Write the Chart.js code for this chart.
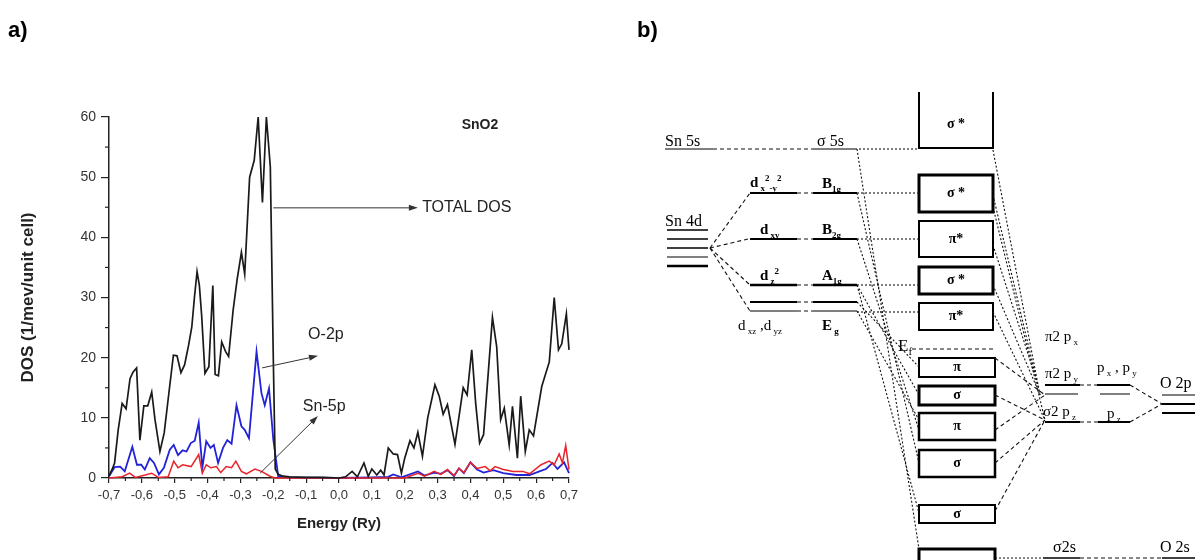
<!DOCTYPE html>
<html>
<head>
<meta charset="utf-8">
<script src="https://cdn.jsdelivr.net/npm/chart.js@4.4.0/dist/chart.umd.min.js"></script>
<style>
  html, body { margin: 0; padding: 0; background: #fff; }
  #wrap { position: relative; width: 1202px; height: 560px; overflow: hidden; }
  #dos { position: absolute; left: 0; top: 0; }
  #mo { position: absolute; left: 630px; top: 0; }
</style>
</head>
<body>
<div id="wrap">
  <canvas id="dos" width="630" height="560"></canvas>
  <canvas id="mo" width="572" height="560"></canvas>
</div>
<script>
// ---- panel a) density of states, energy in Ry ----
const totalE = [-0.700,-0.690,-0.683,-0.672,-0.660,-0.648,-0.636,-0.627,-0.616,-0.606,-0.594,-0.582,-0.570,-0.560,-0.545,-0.532,-0.518,-0.504,-0.493,-0.481,-0.470,-0.458,-0.448,-0.440,-0.432,-0.425,-0.418,-0.408,-0.396,-0.384,-0.377,-0.367,-0.357,-0.345,-0.336,-0.322,-0.310,-0.297,-0.287,-0.272,-0.258,-0.246,-0.233,-0.221,-0.209,-0.200,-0.194,-0.185,-0.170,-0.150,-0.100,-0.050,0.000,0.020,0.040,0.056,0.076,0.089,0.100,0.115,0.127,0.137,0.150,0.165,0.178,0.190,0.200,0.216,0.228,0.240,0.254,0.270,0.292,0.305,0.317,0.330,0.353,0.378,0.390,0.404,0.416,0.428,0.440,0.467,0.480,0.492,0.503,0.518,0.528,0.543,0.553,0.567,0.579,0.592,0.617,0.640,0.655,0.668,0.678,0.692,0.700];
const totalDOS = [0.3,1.5,2.5,8,12.4,11.5,16.5,17.6,18.3,6.3,12,12,14.3,9.7,4.4,7.5,14,20.4,20.3,17.5,18.8,22,25.1,30,34.3,32,27,17.4,18.5,32,17.2,17,22.6,21,20.2,28,33,37.5,33.9,50,52.8,60,45.8,60,51.7,20,1.5,0.6,0.3,0.2,0.1,0.1,0,0.2,1.1,0.2,2.5,0.3,1.5,0.5,1.3,0.5,5,4,3.9,0.8,3.3,6.2,5,7.6,3.6,10,15.5,13.6,10.6,12.2,5.6,15,13.8,21.3,12.4,5.8,7.2,26.7,21.8,9.7,11.6,5.5,11.9,3.3,13.6,4.4,8,7,15.2,19.3,30,21.3,22.3,27.3,21.3];

const o2pE = [-0.700,-0.683,-0.666,-0.652,-0.629,-0.615,-0.602,-0.591,-0.576,-0.563,-0.548,-0.533,-0.515,-0.503,-0.490,-0.476,-0.464,-0.451,-0.439,-0.427,-0.416,-0.404,-0.391,-0.381,-0.368,-0.353,-0.340,-0.327,-0.312,-0.297,-0.287,-0.274,-0.251,-0.236,-0.226,-0.213,-0.200,-0.185,-0.150,0.000,0.100,0.150,0.165,0.190,0.240,0.260,0.290,0.310,0.330,0.350,0.365,0.380,0.400,0.420,0.440,0.470,0.500,0.540,0.580,0.610,0.630,0.650,0.665,0.685,0.700];
const o2pDOS = [0.3,1.8,1.9,1.1,5.2,2.2,2.2,1.4,3.3,2.5,0.6,1.7,4.7,5.5,3.8,4.6,4.4,5.8,6.2,9.2,1.7,6.1,5.0,5.5,2.5,5.0,6.3,5.7,12.1,8.6,8.0,6.6,21,14.1,12.1,14.9,6.4,0.3,0.1,0,0.1,0.2,0.6,0.1,1.1,0.4,0.9,0.7,1.3,0.3,1.6,0.8,2.6,1.4,0.9,1.3,0.8,0.5,0.5,1.1,1.5,2.5,1.5,2.6,0.8];

const sn5pE = [-0.700,-0.660,-0.637,-0.620,-0.590,-0.570,-0.550,-0.520,-0.503,-0.490,-0.476,-0.450,-0.427,-0.416,-0.404,-0.390,-0.373,-0.360,-0.343,-0.327,-0.314,-0.297,-0.282,-0.256,-0.236,-0.210,-0.195,0.200,0.240,0.260,0.290,0.310,0.330,0.350,0.365,0.380,0.400,0.420,0.445,0.460,0.475,0.500,0.530,0.560,0.580,0.615,0.640,0.655,0.670,0.680,0.690,0.700];
const sn5pDOS = [0,0.2,0.8,0.1,0.5,0.8,0.1,0.2,2.8,1.7,2.2,1.9,3.9,0.8,2.2,1.7,1.9,0.9,1.9,1.7,2.8,1.1,0.7,1.5,1.1,0.3,0,0,0.8,0.3,1.1,0.6,1.4,0.4,1.6,0.9,2.6,1.6,1.9,1.2,1.9,1.4,1.1,1.1,0.7,2.2,2.8,2.2,4.0,2.5,5.4,1.4];

const yTicks = [0, 10, 20, 30, 40, 50, 60];
const xMin = -0.7, xMax = 0.7;

// labels with arrows, in data units (energy, DOS)
const arrows = [
  [-0.200, 44.9, 0.240, 44.9],
  [-0.234, 18.3, -0.064, 20.3],
  [-0.240, 0.8, -0.064, 10.3]
];
const notes = [
  ['TOTAL DOS', 0.253, 44.9, 'normal 16px Arial', 'left'],
  ['O-2p', -0.094, 23.8, 'normal 16px Arial', 'left'],
  ['Sn-5p', -0.110, 11.8, 'normal 16px Arial', 'left'],
  ['SnO2', 0.429, 58.6, 'bold 14px Arial', 'center']
];

function pts(xs, ys) {
  return xs.map((x, i) => ({ x: x, y: ys[i] }));
}

function arrow(ctx, x1, y1, x2, y2) {
  const a = Math.atan2(y2 - y1, x2 - x1);
  ctx.beginPath();
  ctx.moveTo(x1, y1);
  ctx.lineTo(x2 - 6 * Math.cos(a), y2 - 6 * Math.sin(a));
  ctx.stroke();
  ctx.beginPath();
  ctx.moveTo(x2, y2);
  ctx.lineTo(x2 - 9 * Math.cos(a) + 3 * Math.sin(a), y2 - 9 * Math.sin(a) - 3 * Math.cos(a));
  ctx.lineTo(x2 - 9 * Math.cos(a) - 3 * Math.sin(a), y2 - 9 * Math.sin(a) + 3 * Math.cos(a));
  ctx.closePath();
  ctx.fill();
}

const dosNotes = {
  id: 'dosNotes',
  afterDraw(chart) {
    const ctx = chart.ctx, xs = chart.scales.x, ys = chart.scales.y;
    ctx.save();
    // minor ticks
    ctx.strokeStyle = '#222';
    ctx.lineWidth = 1.2;
    for (let v = 5; v < 60; v += 10) {
      const p = ys.getPixelForValue(v);
      ctx.beginPath(); ctx.moveTo(xs.left - 4, p); ctx.lineTo(xs.left, p); ctx.stroke();
    }
    for (let v = -0.65; v < 0.7; v += 0.1) {
      const p = xs.getPixelForValue(v);
      ctx.beginPath(); ctx.moveTo(p, ys.bottom); ctx.lineTo(p, ys.bottom + 3); ctx.stroke();
    }
    // arrows
    ctx.strokeStyle = '#333';
    ctx.fillStyle = '#333';
    ctx.lineWidth = 1;
    arrows.forEach(a => arrow(ctx, xs.getPixelForValue(a[0]), ys.getPixelForValue(a[1]),
      xs.getPixelForValue(a[2]), ys.getPixelForValue(a[3])));
    // texts
    ctx.fillStyle = '#222';
    ctx.textBaseline = 'middle';
    notes.forEach(n => {
      ctx.font = n[3];
      ctx.textAlign = n[4];
      ctx.fillText(n[0], xs.getPixelForValue(n[1]), ys.getPixelForValue(n[2]));
    });
    ctx.font = 'bold 22px Arial';
    ctx.textAlign = 'left';
    ctx.fillStyle = '#000';
    ctx.fillText('a)', 8, 31);
    ctx.restore();
  }
};

new Chart(document.getElementById('dos'), {
  type: 'line',
  data: {
    datasets: [
      { label: 'TOTAL DOS', data: pts(totalE, totalDOS), borderColor: '#1a1a1a', borderWidth: 1.7 },
      { label: 'Sn-5p', data: pts(sn5pE, sn5pDOS), borderColor: '#e8242a', borderWidth: 1.5 },
      { label: 'O-2p', data: pts(o2pE, o2pDOS), borderColor: '#2222d8', borderWidth: 1.8 }
    ]
  },
  options: {
    responsive: false,
    animation: false,
    elements: { point: { radius: 0 }, line: { tension: 0 } },
    datasets: { line: { clip: 4 } },
    layout: { padding: { left: 18, top: 117, right: 61, bottom: 22 } },
    plugins: { legend: { display: false }, tooltip: { enabled: false } },
    scales: {
      x: {
        type: 'linear', min: xMin, max: xMax,
        ticks: {
          stepSize: 0.1, padding: 5, color: '#333', font: { family: 'Arial', size: 13 },
          callback: v => Math.abs(v) < 1e-9 ? '0,0' : v.toFixed(1).replace('.', ',')
        },
        grid: { drawOnChartArea: false, tickLength: 5, color: '#222', lineWidth: 1.2 },
        border: { color: '#222', width: 1.5 },
        title: { display: true, text: 'Energy (Ry)', color: '#222', font: { family: 'Arial', size: 15, weight: 'bold' }, padding: { top: 0, bottom: 5 } },
        afterFit(s) { s.height = 60; }
      },
      y: {
        type: 'linear', min: 0, max: 60,
        afterBuildTicks(s) { s.ticks = yTicks.map(v => ({ value: v })); },
        ticks: { padding: 5, color: '#333', font: { family: 'Arial', size: 14 } },
        grid: { drawOnChartArea: false, tickLength: 8, color: '#222', lineWidth: 1.2 },
        border: { color: '#222', width: 1.5 },
        title: { display: true, text: 'DOS (1/mev/unit cell)', color: '#222', font: { family: 'Arial', size: 17, weight: 'bold' }, padding: { top: 0, bottom: 0 } },
        afterFit(s) { s.width = 91; }
      }
    }
  },
  plugins: [dosNotes]
});

// ---- panel b) MO diagram, diagram units (x across, y down = lower energy) ----
// levels: [x1, x2, y, lineWidth]
const levels = [
  [665, 713, 149, 1], [813, 855, 149, 1],
  [667, 708, 230, 1.5], [667, 708, 239, 1.5], [667, 708, 248, 1.5], [667, 708, 257, 1], [667, 708, 266, 2.5],
  [750, 797, 193, 2.2], [750, 797, 239, 1.8], [750, 797, 285, 2.5], [750, 797, 302, 1.8], [750, 797, 311, 1.2],
  [813, 857, 193, 2.2], [813, 857, 239, 1.8], [813, 857, 285, 2.5], [813, 857, 302, 1.8], [813, 857, 311, 1.2],
  [1045, 1080, 385, 2], [1045, 1078, 394, 1], [1045, 1080, 422, 2],
  [1097, 1130, 385, 2], [1100, 1130, 394, 1], [1098, 1130, 422, 2],
  [1162, 1195, 395, 1.2], [1162, 1195, 404, 2], [1162, 1195, 413, 2],
  [1043, 1080, 558, 1.5], [1162, 1195, 558, 1.5]
];
// boxes: [x1, y1, x2, y2, lineWidth, label, openTop]
const boxes = [
  [919, 93, 993, 148, 2, 'σ *', true],
  [919, 175, 993, 212, 3, 'σ *', false],
  [919, 221, 993, 257, 2, 'π*', false],
  [919, 267, 993, 294, 3, 'σ *', false],
  [919, 303, 993, 330, 2, 'π*', false],
  [919, 358, 995, 377, 2, 'π', false],
  [919, 386, 995, 405, 3, 'σ', false],
  [919, 413, 995, 440, 2.5, 'π', false],
  [919, 450, 995, 477, 2.5, 'σ', false],
  [919, 505, 995, 523, 2, 'σ', false],
  [919, 549, 995, 580, 3, '', false]
];
// dashed links: [x1, y1, x2, y2]
const dashed = [
  [713, 149, 813, 149],
  [710, 248, 750, 193], [710, 248, 748, 239], [710, 248, 750, 285], [710, 248, 750, 311],
  [797, 193, 813, 193], [797, 239, 813, 239], [797, 285, 813, 285], [797, 302, 813, 302], [797, 311, 813, 311],
  [1080, 385, 1097, 385], [1080, 422, 1098, 422],
  [1130, 385, 1162, 404], [1130, 422, 1162, 404],
  [1080, 558, 1162, 558],
  [995, 358, 1045, 395], [995, 395, 1045, 420], [995, 430, 1045, 395], [995, 463, 1045, 420], [995, 511, 1045, 420],
  [912, 349, 995, 349]
];
// dotted links
const dotted = [
  [855, 149, 919, 149], [857, 193, 919, 193], [857, 239, 919, 239], [857, 285, 919, 285], [857, 312, 919, 312],
  [857, 149, 919, 549], [857, 193, 919, 463], [857, 239, 919, 430], [857, 285, 919, 395],
  [857, 285, 919, 513], [857, 302, 919, 367], [857, 311, 919, 420],
  [993, 150, 1040, 395], [993, 195, 1040, 395], [993, 207, 1045, 420], [993, 245, 1038, 385],
  [993, 285, 1040, 395], [993, 312, 1045, 420],
  [995, 558, 1043, 558]
];
// rich labels: [x, y, size, bold, parts] ; part kind n=normal, b=subscript, p=superscript
const moLabels = [
  [665, 146, 16, false, [['Sn 5s', 'n']]],
  [817, 146, 16, false, [['σ 5s', 'n']]],
  [665, 226, 16, false, [['Sn 4d', 'n']]],
  [750, 187, 15, true, [['d', 'n'], [' x', 'b'], ['2', 'p'], ['-y', 'b'], ['2', 'p']]],
  [822, 188, 15, true, [['B', 'n'], ['1g', 'b']]],
  [760, 234, 15, true, [['d', 'n'], [' xy', 'b']]],
  [822, 234, 15, true, [['B', 'n'], ['2g', 'b']]],
  [760, 280, 15, true, [['d', 'n'], [' z', 'b'], ['2', 'p']]],
  [822, 280, 15, true, [['A', 'n'], ['1g', 'b']]],
  [738, 330, 15, false, [['d', 'n'], [' xz', 'b'], [' ,d', 'n'], [' yz', 'b']]],
  [822, 330, 15, true, [['E', 'n'], [' g', 'b']]],
  [898, 351, 17, false, [['E', 'n'], ['f', 'b']]],
  [1045, 341, 15, false, [['π2 p', 'n'], [' x', 'b']]],
  [1045, 378, 15, false, [['π2 p', 'n'], [' y', 'b']]],
  [1043, 416, 15, false, [['σ2 p', 'n'], [' z', 'b']]],
  [1097, 372, 15, false, [['p', 'n'], [' x', 'b'], [' , p', 'n'], [' y', 'b']]],
  [1107, 418, 15, false, [['p', 'n'], [' z', 'b']]],
  [1160, 388, 16, false, [['O 2p', 'n']]],
  [1053, 552, 16, false, [['σ2s', 'n']]],
  [1160, 552, 16, false, [['O 2s', 'n']]]
];

function seg(a, dash) {
  return {
    data: [{ x: a[0], y: a[1] }, { x: a[2], y: a[3] }],
    borderColor: '#111', borderWidth: 1.1, borderDash: dash
  };
}

const moSets = [];
levels.forEach(l => moSets.push({ data: [{ x: l[0], y: l[2] }, { x: l[1], y: l[2] }], borderColor: '#000', borderWidth: l[3] }));
dashed.forEach(d => moSets.push(seg(d, [4, 3])));
dotted.forEach(d => moSets.push(seg(d, [2, 2])));
boxes.forEach(b => {
  const path = b[6]
    ? [{ x: b[0], y: b[1] }, { x: b[0], y: b[3] }, { x: b[2], y: b[3] }, { x: b[2], y: b[1] }]
    : [{ x: b[0], y: b[1] }, { x: b[2], y: b[1] }, { x: b[2], y: b[3] }, { x: b[0], y: b[3] }, { x: b[0], y: b[1] }];
  moSets.push({ data: path, borderColor: '#000', borderWidth: b[4], borderJoinStyle: 'miter', borderCapStyle: 'square' });
});

const moText = {
  id: 'moText',
  afterDatasetsDraw(chart) {
    const ctx = chart.ctx, xs = chart.scales.x, ys = chart.scales.y;
    ctx.save();
    ctx.fillStyle = '#000';
    ctx.textBaseline = 'alphabetic';
    ctx.textAlign = 'left';
    moLabels.forEach(l => {
      let px = xs.getPixelForValue(l[0]);
      const py = ys.getPixelForValue(l[1]);
      const w = l[3] ? 'bold ' : '';
      l[4].forEach(p => {
        let size = l[2], dy = 0;
        if (p[1] === 'b') { size = Math.round(l[2] * 0.62); dy = 4; }
        if (p[1] === 'p') { size = Math.round(l[2] * 0.62); dy = -6; }
        ctx.font = w + size + 'px "Liberation Serif", "Times New Roman", serif';
        ctx.fillText(p[0], px, py + dy);
        px += ctx.measureText(p[0]).width;
      });
    });
    ctx.textAlign = 'center';
    ctx.textBaseline = 'middle';
    boxes.forEach(b => {
      if (!b[5]) return;
      ctx.font = 'bold 14px "Liberation Serif", serif';
      const cy = b[6] ? (b[1] + b[3]) / 2 + 4 : (b[1] + b[3]) / 2;
      ctx.fillText(b[5], xs.getPixelForValue((b[0] + b[2]) / 2), ys.getPixelForValue(cy));
    });
    ctx.font = 'bold 22px Arial';
    ctx.textAlign = 'left';
    ctx.fillText('b)', xs.getPixelForValue(637), ys.getPixelForValue(31));
    ctx.restore();
  }
};

new Chart(document.getElementById('mo'), {
  type: 'scatter',
  data: { datasets: moSets },
  options: {
    responsive: false,
    animation: false,
    showLine: true,
    elements: { point: { radius: 0 }, line: { tension: 0 } },
    datasets: { scatter: { clip: false, showLine: true, pointRadius: 0 } },
    layout: { padding: 0 },
    plugins: { legend: { display: false }, tooltip: { enabled: false } },
    scales: {
      x: { type: 'linear', display: false, min: 630, max: 1202 },
      y: { type: 'linear', display: false, min: 0, max: 560, reverse: true }
    }
  },
  plugins: [moText]
});
</script>
</body>
</html>
